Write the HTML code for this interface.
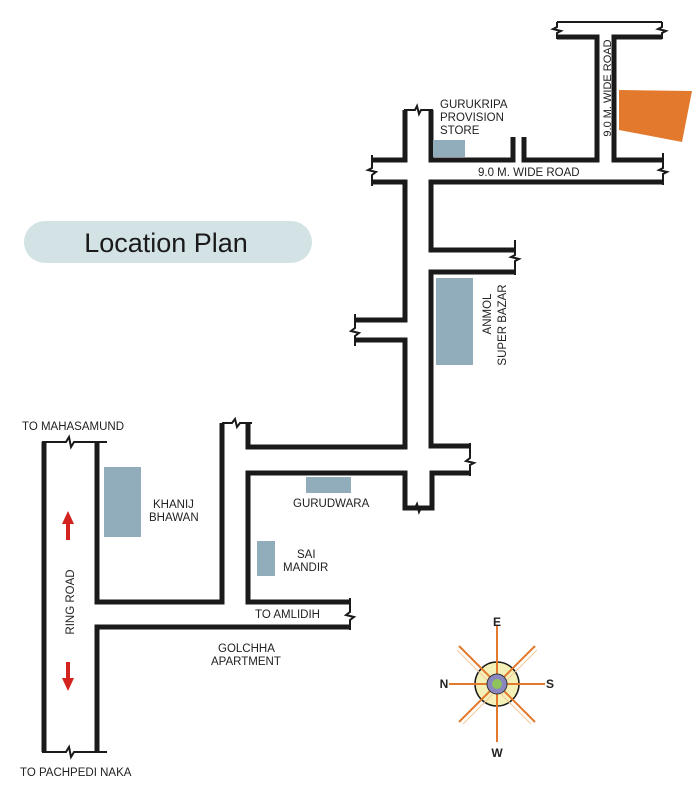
<!DOCTYPE html>
<html><head><meta charset="utf-8"><style>
html,body{margin:0;padding:0;background:#fff;}
svg{display:block;}
text{font-family:"Liberation Sans",Arial,sans-serif;font-size:11.5px;fill:#222;}
</style></head><body>
<svg width="700" height="800" viewBox="0 0 700 800" xmlns="http://www.w3.org/2000/svg">
<g fill="none" stroke="#1a1a1a" stroke-width="5" stroke-linejoin="miter">
<line x1="44" y1="442" x2="44" y2="752"/>
<polyline points="97,442 97,602 222,602 222,423"/>
<polyline points="97,752 97,627 350,627"/>
<polyline points="248,423 248,447 405,447 405,340 355,340"/>
<polyline points="355,320 405,320 405,182 372,182"/>
<polyline points="372,160 405,160 405,110"/>
<polyline points="431,110 431,160 513,160 513,137"/>
<polyline points="524,137 524,160 597,160 597,37 557,37"/>
<polyline points="662,37 614,37 614,160 663,160"/>
<polyline points="663,182 431,182 431,250 515,250"/>
<polyline points="515,272 431,272 431,446 470,446"/>
<polyline points="470,473 432,473 432,508 405,508 405,473 248,473 248,602 350,602"/>
</g>
<g fill="none" stroke="#1a1a1a" stroke-width="2">
<polyline points="42,442 66,442 69,437 71,447 74,442 107,442"/>
<polyline points="42,752 66,752 69,747 71,757 74,752 107,752"/>
<polyline points="222,423 232,423 235,419 237,427 240,423 252,423"/>
<polyline points="350,598 350,612 346,615 354,617 350,620 350,630"/>
<polyline points="355,314 355,328 351,331 359,333 355,336 355,346"/>
<polyline points="372,155 372,168 368,170 376,172 372,175 372,186"/>
<polyline points="404,110 415,110 417,106 419,114 421,110 433,110"/>
<polyline points="557,22 662,22"/>
<polyline points="557,22 557,27 553,29 561,31 557,33 557,39"/>
<polyline points="662,22 662,27 658,29 666,31 662,33 662,39"/>
<polyline points="663,153 663,168 659,170 667,172 663,174 663,185"/>
<polyline points="515,240 515,255 511,257 519,259 515,261 515,275"/>
<polyline points="470,443 470,458 466,461 474,463 470,465 470,476"/>
<polyline points="405,508 415,508 417,504 419,512 421,508 432,508"/>
</g>
<g fill="#91adbb">
<rect x="433" y="140" width="32" height="17"/>
<rect x="436" y="278" width="37" height="87"/>
<rect x="306" y="477" width="45" height="16"/>
<rect x="104" y="467" width="37" height="70"/>
<rect x="257" y="541" width="18" height="35"/>
</g>
<polygon points="619,90 692,91 682,142 619,130" fill="#e2792d"/>
<rect x="24" y="221" width="288" height="42" rx="21" fill="#d3e2e5"/>
<text x="166" y="252" text-anchor="middle" style="font-size:27px;fill:#1a1a1a">Location Plan</text>
<g fill="#d2231e">
<rect x="66" y="522" width="4" height="18"/><polygon points="62,524 68,511 74,524"/>
<rect x="66" y="662" width="4" height="18"/><polygon points="62,678 68,691 74,678"/>
</g>
<text x="22" y="430">TO MAHASAMUND</text>
<text x="20" y="776">TO PACHPEDI NAKA</text>
<text x="74" y="602" transform="rotate(-90 74 602)" text-anchor="middle">RING ROAD</text>
<text x="153" y="508">KHANIJ</text>
<text x="149" y="521">BHAWAN</text>
<text x="293" y="507">GURUDWARA</text>
<text x="297" y="558">SAI</text>
<text x="283" y="571">MANDIR</text>
<text x="255" y="618">TO AMLIDIH</text>
<text x="218" y="652">GOLCHHA</text>
<text x="211" y="665">APARTMENT</text>
<text x="440" y="108">GURUKRIPA</text>
<text x="440" y="121">PROVISION</text>
<text x="440" y="134">STORE</text>
<text x="478" y="176">9.0 M. WIDE ROAD</text>
<text x="611" y="88" transform="rotate(-90 611 88)" text-anchor="middle" style="font-size:11px">9.0 M. WIDE ROAD</text>
<text x="491" y="314" transform="rotate(-90 491 314)" text-anchor="middle">ANMOL</text>
<text x="506" y="325" transform="rotate(-90 506 325)" text-anchor="middle">SUPER BAZAR</text>
<g transform="translate(497,684)">
<circle r="22" fill="#f3f0b8" stroke="#1a1a1a" stroke-width="1.5"/>
<g stroke="#e2792d" stroke-width="2">
<line x1="0" y1="-58" x2="0" y2="58"/>
<line x1="-48" y1="0" x2="48" y2="0"/>
<line x1="-38" y1="-38" x2="38" y2="38"/>
<line x1="38" y1="-38" x2="-38" y2="38"/>
</g>
<g stroke="#f5c9a0" stroke-width="1">
<line x1="-40" y1="-34" x2="34" y2="40"/>
<line x1="40" y1="-34" x2="-34" y2="40"/>
</g>
<circle r="10" fill="#8a87c0" stroke="#333" stroke-width="1"/>
<circle r="5" fill="#8fc35b"/>
</g>
<text x="497" y="626" text-anchor="middle" style="font-size:12px;font-weight:bold">E</text>
<text x="497" y="757" text-anchor="middle" style="font-size:12px;font-weight:bold">W</text>
<text x="444" y="688" text-anchor="middle" style="font-size:12px;font-weight:bold">N</text>
<text x="550" y="688" text-anchor="middle" style="font-size:12px;font-weight:bold">S</text>
</svg>
</body></html>
